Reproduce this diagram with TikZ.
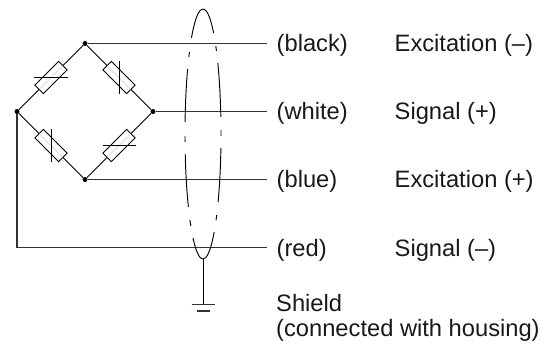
\documentclass[tikz,border=0pt]{standalone}
\usepackage{fontspec}
\setmainfont{Liberation Sans}
\tikzset{
  wire/.style={line width=1.25pt,draw=black!80},
  thin wire/.style={line width=0.95pt,draw=black},
  resistor/.style={draw=black,fill=white,line width=0.95pt,minimum width=33.5pt,minimum height=12pt,inner sep=0pt,outer sep=0pt},
  junction/.style={circle,fill=black,inner sep=0pt,minimum size=5pt},
  lbl/.style={anchor=base west,inner sep=0pt,font=\fontsize{23.7}{28}\selectfont,text=black!90},
}
\newcommand{\shieldarc}[3]{\draw[thin wire,domain=#2:#3,samples=24,smooth,variable=\t] plot ({203+#1*18*sqrt(max(0,1-((\t-134)/125)^2))},{\t});}
\begin{document}
\begin{tikzpicture}[x=1pt,y=-1pt]
\useasboundingbox (0,0) rectangle (559,347);
\node[junction] (T) at (85,43.5) {};
\node[junction] (R) at (153,111.5) {};
\node[junction] (B) at (85,179.5) {};
\node[junction] (L) at (17,111.5) {};
\draw[thin wire] (L) -- (T) -- (R) -- (B) -- (L);
\node[resistor,rotate=-45] (r2) at (119,77.5) {};
\node[resistor,rotate=45] (r1) at (51,77.5) {};
\node[resistor,rotate=45] (r4) at (119,145.5) {};
\node[resistor,rotate=-45] (r3) at (51,145.5) {};
\draw[black!20,line width=0.5pt] (r1.west) -- (r1.east) (r2.west) -- (r2.east) (r3.west) -- (r3.east) (r4.west) -- (r4.east);
\draw[thin wire] (34,77.5) -- (68,77.5);
\draw[thin wire] (119,61) -- (119,94);
\draw[thin wire] (51,129) -- (51,162);
\draw[thin wire] (102.5,145.5) -- (136,145.5);
\coordinate (e1) at (267,43.5);
\coordinate (e2) at (267,111.5);
\coordinate (e3) at (267,179.5);
\coordinate (e4) at (267,247.5);
\draw[wire] (T) -- (e1);
\draw[wire] (R) -- (e2);
\draw[wire] (B) -- (e3);
\draw[wire] (L) |- (e4);
% shield ellipse, dash-dotted
\shieldarc{-1}{9}{38}
\shieldarc{1}{9}{33}
\shieldarc{-1}{52}{57}
\shieldarc{1}{46}{51}
\shieldarc{-1}{69}{122}
\shieldarc{1}{63}{117}
\shieldarc{-1}{136}{142}
\shieldarc{1}{130}{136}
\shieldarc{-1}{154}{207}
\shieldarc{1}{148}{202}
\shieldarc{-1}{220}{226}
\shieldarc{1}{215}{220}
\shieldarc{-1}{238}{259}
\shieldarc{1}{232}{259}
\coordinate (sh) at (203,259);
\coordinate (gnd) at (203,304.5);
\draw[thin wire] (sh) -- (gnd);
\draw[wire] (191.5,304.5) -- (215,304.5);
\draw[wire] (197,311) -- (210,311);
\node[lbl] (a1) at (276.5,52) {(black)};
\node[lbl] (a2) at (276.5,120) {(white)};
\node[lbl] (a3) at (276.5,188) {(blue)};
\node[lbl] (a4) at (276.5,256.5) {(red)};
\node[lbl] (b1) at (394.5,52) {Excitation (–)};
\node[lbl] (b2) at (394.5,120) {Signal (+)};
\node[lbl] (b3) at (394.5,188) {Excitation (+)};
\node[lbl] (b4) at (394.5,256.5) {Signal (–)};
\node[lbl] (s1) at (276,311.5) {Shield};
\node[lbl] (s2) at (276,336) {(connected with housing)};
\end{tikzpicture}
\end{document}
